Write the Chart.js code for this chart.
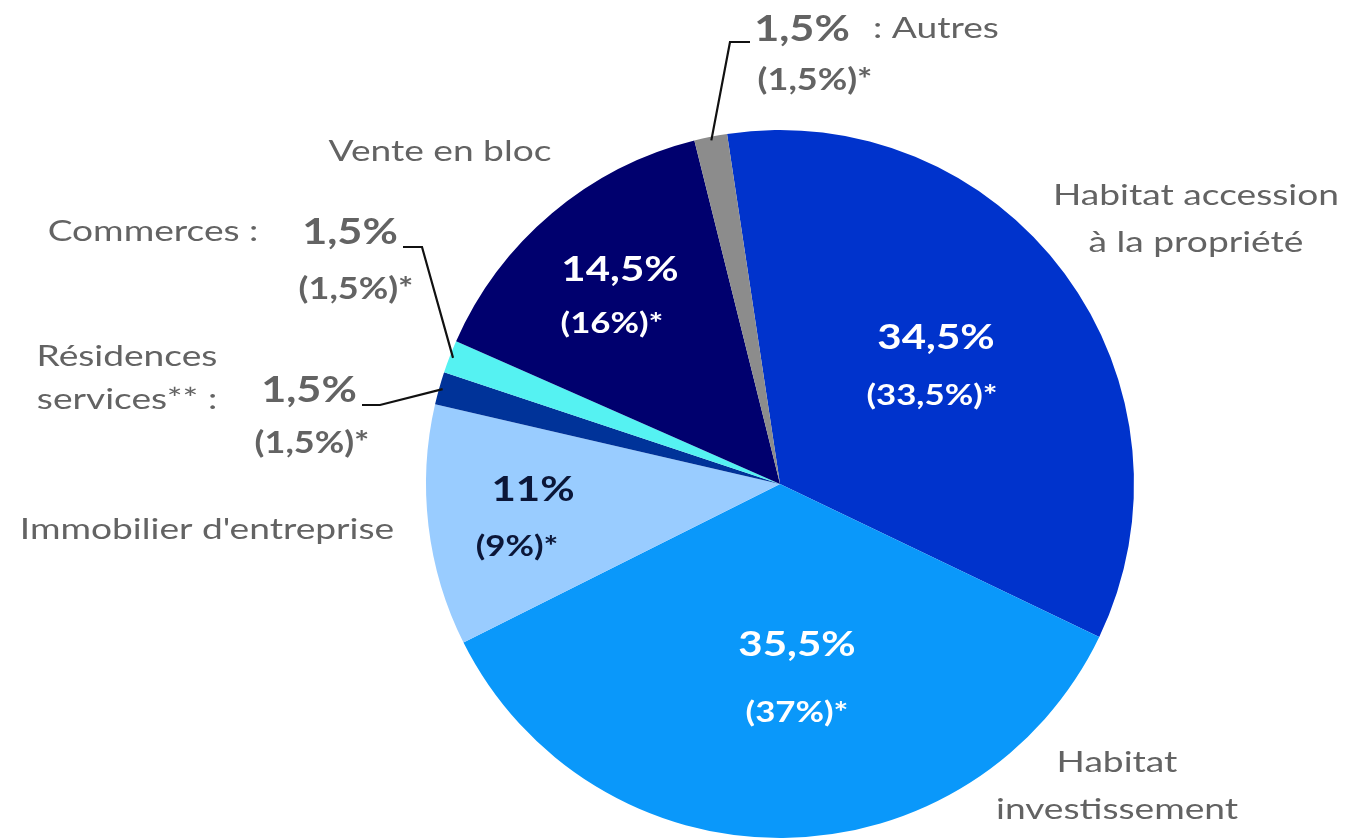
<!DOCTYPE html>
<html lang="fr">
<head>
<meta charset="utf-8">
<title>Répartition du chiffre d'affaires</title>
<script src="https://cdn.jsdelivr.net/npm/chart.js@4.4.1/dist/chart.umd.min.js"></script>
<style>
  html, body { margin: 0; padding: 0; background: #fff; }
  #wrap { width: 1346px; height: 840px; }
</style>
</head>
<body>
<div id="wrap"><canvas id="pie" width="1346" height="840"></canvas></div>
<script>
// données
const categories = ['Habitat accession à la propriété', 'Habitat investissement', "Immobilier d'entreprise",
    'Résidences services**', 'Commerces', 'Vente en bloc', 'Autres'];
const shares = [34.5, 35.5, 11, 1.5, 1.5, 14.5, 1.5];
const previousShares = [33.5, 37, 9, 1.5, 1.5, 16, 1.5];
const sliceColors = ['#0033CC', '#0A98FA', '#99CCFF', '#003399', '#55F2F2', '#00006E', '#8C8C8C'];

const GRAY = '#636363';

const fmt = v => String(v).replace('.', ',') + '%';

// placement des étiquettes (texte centré sauf indication)
const labelLayout = [
    { name: ['Habitat accession', 'à la propriété'], nameAt: [1196, 196], lineGap: 47,
      value: [936, 338], prev: [932, 396], color: '#fff', size: 35 },
    { name: ['Habitat', 'investissement'], nameAt: [1117, 763], lineGap: 47,
      value: [797, 645], prev: [797, 713], color: '#fff', size: 35 },
    { name: ["Immobilier d'entreprise"], nameAt: [207, 530],
      value: [533, 490], prev: [517, 547], color: '#0B1638', size: 35 },
    { name: ['Résidences', 'services** :'], nameAt: [127, 357], lineGap: 43,
      value: [309, 390], prev: [312, 443], color: GRAY, size: 36, leader: [[362, 405], [380, 405]] },
    { name: ['Commerces :'], nameAt: [153, 232],
      value: [350, 232], prev: [356, 289], color: GRAY, size: 36, leader: [[403, 247], [422, 247]] },
    { name: ['Vente en bloc'], nameAt: [440, 152],
      value: [620, 270], prev: [612, 324], color: '#fff', size: 35 },
    { name: [': Autres'], nameAt: [873, 29], nameAlign: 'left',
      value: [802, 29], prev: [815, 80], color: GRAY, size: 36, leader: [[750, 42], [730, 42]] }
];

function drawText(ctx, str, x, y, font, color, align, stretch) {
    ctx.save();
    ctx.translate(x, y);
    ctx.scale(stretch, 1);
    ctx.font = font;
    ctx.fillStyle = color;
    ctx.textAlign = align || 'center';
    ctx.textBaseline = 'middle';
    ctx.fillText(str, 0, 0);
    ctx.restore();
}

const pieLabels = {
    id: 'pieLabels',
    afterDraw(chart) {
        const ctx = chart.ctx;
        const arcs = chart.getDatasetMeta(0).data;
        labelLayout.forEach((lab, i) => {
            // traits de rappel vers les petites parts
            if (lab.leader) {
                const arc = arcs[i];
                const mid = (arc.startAngle + arc.endAngle) / 2;
                const r = arc.outerRadius * 0.99;
                ctx.save();
                ctx.strokeStyle = '#111';
                ctx.lineWidth = 2.2;
                ctx.beginPath();
                ctx.moveTo(lab.leader[0][0], lab.leader[0][1]);
                ctx.lineTo(lab.leader[1][0], lab.leader[1][1]);
                ctx.lineTo(arc.x + Math.cos(mid) * r, arc.y + Math.sin(mid) * r);
                ctx.stroke();
                ctx.restore();
            }
            lab.name.forEach((line, k) => {
                drawText(ctx, line, lab.nameAt[0], lab.nameAt[1] + k * (lab.lineGap || 0),
                    '29px Lato', GRAY, lab.nameAlign, 1.28);
            });
            drawText(ctx, fmt(shares[i]), lab.value[0], lab.value[1],
                'bold ' + lab.size + 'px Lato', lab.color, 'center', 1.2);
            drawText(ctx, '(' + fmt(previousShares[i]) + ')*', lab.prev[0], lab.prev[1],
                'bold ' + (lab.size - 6) + 'px Lato', lab.color, 'center', 1.2);
        });
    }
};

new Chart(document.getElementById('pie').getContext('2d'), {
    type: 'pie',
    data: {
        labels: categories,
        datasets: [{
            data: shares,
            backgroundColor: sliceColors,
            borderWidth: 0
        }]
    },
    options: {
        responsive: false,
        animation: false,
        rotation: -8.6,
        layout: { padding: { left: 426, right: 212, top: 130, bottom: 2 } },
        plugins: {
            legend: { display: false },
            tooltip: { enabled: false }
        }
    },
    plugins: [pieLabels]
});
</script>
</body>
</html>
